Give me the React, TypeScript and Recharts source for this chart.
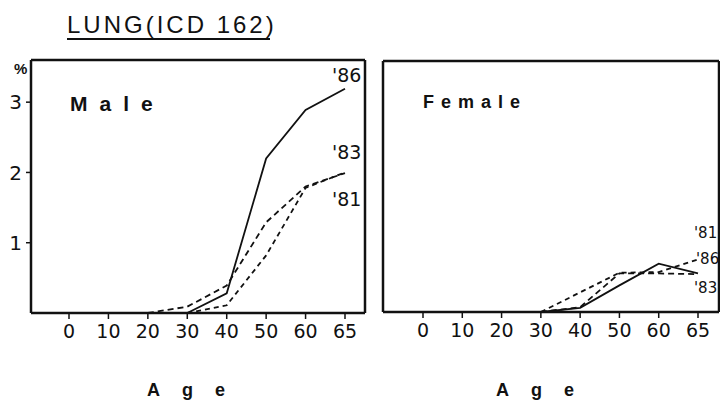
import React from 'react';
import { LineChart, Line, XAxis, YAxis } from 'recharts';

// Age groups, evenly spaced on the original (65 is not at its true distance)
const ages = ['0', '10', '20', '30', '40', '50', '60', '65'];

// Male, % by age
const male81 = [null, null, null, 0, 0.11, 0.82, 1.78, 2.0];
const male83 = [null, null, 0, 0.09, 0.39, 1.29, 1.8, 1.99];
const male86 = [null, null, null, 0, 0.28, 2.2, 2.89, 3.19];

// Female, % by age
const female81 = [null, null, null, 0, 0.28, 0.56, 0.57, 0.75];
const female83 = [null, null, null, 0, 0.07, 0.55, 0.55, 0.54];
const female86 = [null, null, null, 0, 0.06, 0.38, 0.69, 0.55];

const yTicks = [1, 2, 3];

const FONT = '"Liberation Sans", Arial, sans-serif';
const NUM_FONT = '"DejaVu Sans", sans-serif';
const INK = '#111';

const maleData = ages.map((age, i) => ({ age, y81: male81[i], y83: male83[i], y86: male86[i] }));
const femaleData = ages.map((age, i) => ({ age, y81: female81[i], y83: female83[i], y86: female86[i] }));

// label drawn only next to the last point of a series
const endLabel = (text: string, dx: number, dy: number, size: number) => (props: any) => {
    const { x, y, index } = props;
    if (index !== ages.length - 1 || x == null || y == null) return null;
    return (
        <text key={text} x={x + dx} y={y + dy} fontSize={size} fontFamily={NUM_FONT} fill={INK}>
            {text}
        </text>
    );
};

const boxAxis = { stroke: INK, strokeWidth: 2.5 };

function Panel(props: {
    data: any[];
    width: number;
    margin: { top: number; right: number; bottom: number; left: number };
    yWidth: number;
    yMax: number;
    showY: boolean;
    padding: { left: number; right: number };
    labels: { [k: string]: [string, number, number, number] };
}) {
    const { data, width, margin, yWidth, yMax, showY, padding, labels } = props;
    return (
        <LineChart width={width} height={403} data={data} margin={margin}>
            <XAxis
                xAxisId="b"
                dataKey="age"
                padding={padding}
                axisLine={boxAxis}
                tickLine={{ stroke: INK, strokeWidth: 1.5 }}
                tickSize={6}
                tickMargin={6}
                tick={{ fill: INK, fontSize: 19, fontFamily: NUM_FONT }}
                interval={0}
            />
            {/* top and right axes only close the frame */}
            <XAxis xAxisId="t" dataKey="age" orientation="top" height={1} padding={padding} axisLine={boxAxis} tick={false} tickLine={false} />
            <YAxis
                yAxisId="l"
                width={yWidth}
                domain={[0, yMax]}
                ticks={showY ? yTicks : []}
                axisLine={boxAxis}
                tickLine={showY ? { stroke: INK, strokeWidth: 1.5 } : false}
                tickSize={5}
                tickMargin={4}
                tick={showY ? { fill: INK, fontSize: 20, fontFamily: NUM_FONT } : false}
            />
            <YAxis yAxisId="r" orientation="right" width={1} domain={[0, yMax]} axisLine={boxAxis} tick={false} tickLine={false} />
            <Line xAxisId="b" yAxisId="l" dataKey="y86" stroke={INK} strokeWidth={1.8} dot={false} isAnimationActive={false}
                label={endLabel(...labels.y86)} />
            <Line xAxisId="b" yAxisId="l" dataKey="y83" stroke={INK} strokeWidth={1.8} strokeDasharray="6 4" dot={false} isAnimationActive={false}
                label={endLabel(...labels.y83)} />
            <Line xAxisId="b" yAxisId="l" dataKey="y81" stroke={INK} strokeWidth={1.8} strokeDasharray="5 4" dot={false} isAnimationActive={false}
                label={endLabel(...labels.y81)} />
        </LineChart>
    );
}

const abs = (left: number, top: number): React.CSSProperties => ({ position: 'absolute', left, top });

export default function App() {
    return (
        <div style={{ position: 'absolute', left: 0, top: 0, width: 720, height: 403, background: '#fff', overflow: 'hidden', fontFamily: FONT, color: INK }}>
            <div style={abs(0, 0)}>
                <Panel
                    data={maleData}
                    width={380}
                    margin={{ top: 59, right: 14, bottom: 60, left: 0 }}
                    yWidth={31}
                    yMax={3.6}
                    showY
                    padding={{ left: 38, right: 20 }}
                    labels={{ y86: ["'86", -13, -7, 19], y83: ["'83", -13, -14, 19], y81: ["'81", -13, 34, 19] }}
                />
            </div>
            <div style={abs(360, 0)}>
                <Panel
                    data={femaleData}
                    width={361}
                    margin={{ top: 60, right: 1, bottom: 61, left: 0 }}
                    yWidth={23}
                    yMax={3.58}
                    showY={false}
                    padding={{ left: 40, right: 21 }}
                    labels={{ y86: ["'86", -2, -9, 15], y83: ["'83", -4, 19, 15], y81: ["'81", -4, -21, 15] }}
                />
            </div>

            {/* title */}
            <div style={{ ...abs(67, 12), fontSize: 24, letterSpacing: 3, lineHeight: '26px', whiteSpace: 'nowrap' }}>LUNG(ICD 162)</div>
            <div style={{ ...abs(67, 38), width: 203, height: 2, background: INK }} />

            <div style={{ ...abs(14, 60), fontSize: 15, fontWeight: 700, lineHeight: '18px' }}>%</div>
            <div style={{ ...abs(70, 92), fontSize: 21, fontWeight: 700, letterSpacing: 12, lineHeight: '24px' }}>Male</div>
            <div style={{ ...abs(423, 91), fontSize: 18, fontWeight: 700, letterSpacing: 7, lineHeight: '22px' }}>Female</div>

            <div style={{ ...abs(147, 380), fontSize: 18, fontWeight: 700, letterSpacing: 22, lineHeight: '21px' }}>Age</div>
            <div style={{ ...abs(496, 380), fontSize: 18, fontWeight: 700, letterSpacing: 22, lineHeight: '21px' }}>Age</div>
        </div>
    );
}
